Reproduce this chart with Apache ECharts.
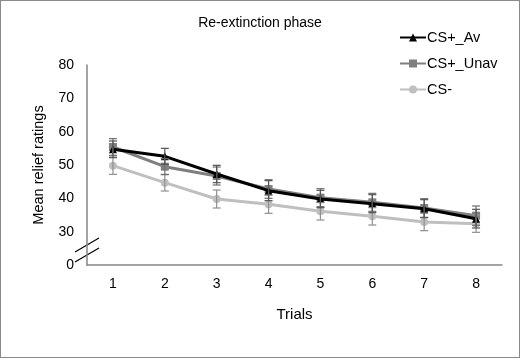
<!DOCTYPE html>
<html>
<head>
<meta charset="utf-8">
<script src="https://cdn.jsdelivr.net/npm/echarts@6/dist/echarts.min.js"></script>
<style>
  html, body { margin: 0; padding: 0; background: #fff; }
  #chart { width: 520px; height: 358px; box-sizing: border-box; border: 1px solid #8a8a8a; }
</style>
</head>
<body>
<div id="chart"></div>
<script>
// trials
var trials = ['1', '2', '3', '4', '5', '6', '7', '8'];

// mean relief ratings per trial
var csAv = [54.7, 52.6, 47.3, 42.3, 39.8, 38.4, 36.9, 33.9];
var csUnav = [55.4, 49.5, 46.7, 42.8, 40.2, 38.8, 37.1, 34.8];
var csMinus = [49.8, 44.7, 39.8, 38.2, 36.1, 34.6, 32.9, 32.4];

// error (+/-)
var errAv = [2.5, 2.4, 2.6, 3.0, 2.6, 2.7, 2.7, 2.8];
var errUnav = [2.5, 2.4, 2.7, 2.8, 2.7, 2.7, 2.8, 2.9];
var errMinus = [2.6, 2.5, 2.7, 2.7, 2.6, 2.6, 2.6, 2.6];

// y ticks: bottom tick is drawn as "0" (broken axis)
var yTicks = [20, 30, 40, 50, 60, 70, 80];

var FONT = '"Liberation Sans", Arial, sans-serif';

function errData(vals, errs) {
    return vals.map(function (v, i) { return [i, v - errs[i], v + errs[i]]; });
}

function errSeries(name, vals, errs, color) {
    return {
        name: name,
        type: 'custom',
        z: 5,
        silent: true,
        data: errData(vals, errs),
        renderItem: function (params, api) {
            var lo = api.coord([api.value(0), api.value(1)]);
            var hi = api.coord([api.value(0), api.value(2)]);
            var w = 4;
            var st = { stroke: color, lineWidth: 1.2 };
            return {
                type: 'group',
                children: [
                    { type: 'line', shape: { x1: lo[0], y1: lo[1], x2: hi[0], y2: hi[1] }, style: st },
                    { type: 'line', shape: { x1: lo[0] - w, y1: lo[1], x2: lo[0] + w, y2: lo[1] }, style: st },
                    { type: 'line', shape: { x1: hi[0] - w, y1: hi[1], x2: hi[0] + w, y2: hi[1] }, style: st }
                ]
            };
        }
    };
}

var myChart = echarts.init(document.getElementById('chart'));

var option = {
    backgroundColor: '#fff',
    animation: false,
    textStyle: { fontFamily: FONT },
    title: {
        text: 'Re-extinction phase',
        left: 'center',
        top: 10,
        textStyle: { fontSize: 14, fontWeight: 'normal', color: '#000', fontFamily: FONT }
    },
    legend: {
        orient: 'vertical',
        left: 393,
        top: 24,
        itemWidth: 26,
        itemHeight: 10,
        itemGap: 11,
        textStyle: { fontSize: 14.5, color: '#000', fontFamily: FONT, padding: [0, 0, 0, -4] },
        data: ['CS+_Av', 'CS+_Unav', 'CS-']
    },
    grid: { left: 86, right: 17, top: 64, bottom: 92 },
    xAxis: {
        type: 'category',
        data: trials,
        boundaryGap: true,
        name: 'Trials',
        nameLocation: 'middle',
        nameGap: 42,
        nameTextStyle: { fontSize: 15, color: '#000', fontFamily: FONT },
        axisLine: { lineStyle: { color: '#868686', width: 1.5 } },
        axisTick: { show: false },
        axisLabel: { fontSize: 14, color: '#000', margin: 12, fontFamily: FONT }
    },
    yAxis: {
        type: 'value',
        min: 20,
        max: 80,
        interval: 10,
        name: 'Mean relief ratings',
        nameLocation: 'middle',
        nameGap: 41,
        nameTextStyle: { fontSize: 14.5, color: '#000', fontFamily: FONT },
        axisLine: { show: true, lineStyle: { color: '#868686', width: 1.5 } },
        axisTick: { show: false },
        splitLine: { show: false },
        axisLabel: {
            fontSize: 14, color: '#000', margin: 13, fontFamily: FONT,
            formatter: function (v) { return v === yTicks[0] ? '0' : String(v); }
        }
    },
    series: [
        {
            name: 'CS-',
            type: 'line',
            data: csMinus,
            z: 2,
            symbol: 'circle',
            symbolSize: 8,
            lineStyle: { color: '#bfbfbf', width: 3 },
            itemStyle: { color: '#bfbfbf' }
        },
        {
            name: 'CS+_Unav',
            type: 'line',
            data: csUnav,
            z: 3,
            symbol: 'rect',
            symbolSize: 8,
            lineStyle: { color: '#7f7f7f', width: 3 },
            itemStyle: { color: '#7f7f7f' }
        },
        {
            name: 'CS+_Av',
            type: 'line',
            data: csAv,
            z: 4,
            symbol: 'triangle',
            symbolSize: 8,
            lineStyle: { color: '#000', width: 3 },
            itemStyle: { color: '#000' }
        },
        errSeries('errMinus', csMinus, errMinus, '#8f8f8f'),
        errSeries('errUnav', csUnav, errUnav, '#6f6f6f'),
        errSeries('errAv', csAv, errAv, '#555')
    ]
};

myChart.setOption(option);

// axis break marks (two short parallel slashes across the y axis)
var p = myChart.convertToPixel({ gridIndex: 0 }, [0, 24.5]);
var ax = 86;
var lines = [-5, 5].map(function (off) {
    return {
        type: 'line',
        shape: { x1: ax - 12, y1: p[1] + off + 7, x2: ax + 12, y2: p[1] + off - 7 },
        style: { stroke: '#000', lineWidth: 1.2 }
    };
});
myChart.setOption({ graphic: lines });
</script>
</body>
</html>
